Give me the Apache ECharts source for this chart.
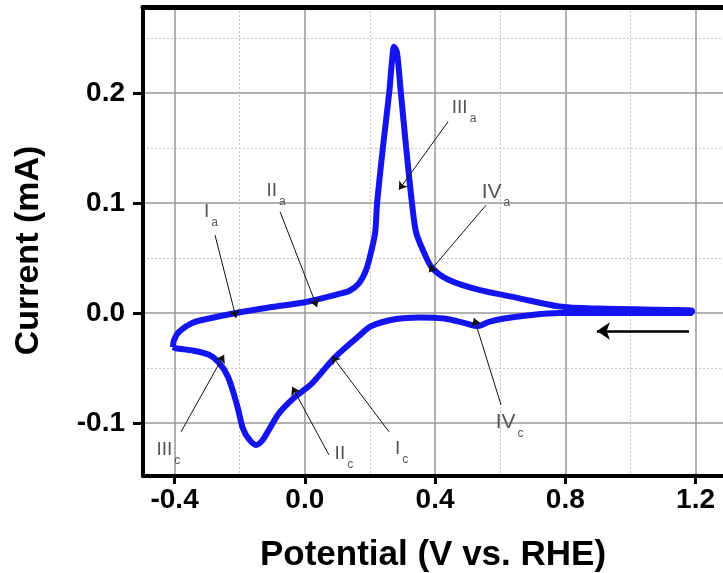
<!DOCTYPE html>
<html><head><meta charset="utf-8">
<script src="https://cdn.jsdelivr.net/npm/echarts@6/dist/echarts.min.js"></script>
<style>html,body{margin:0;padding:0;background:#fff}#c{width:723px;height:573px}</style>
</head><body><div id="c"></div>
<script>
// Anodic (forward) scan, left to right
const anodicV = [-0.405, -0.402, -0.386, -0.346, -0.294, -0.211, -0.110, 0.004, 0.105, 0.136, 0.166, 0.188, 0.203, 0.216, 0.222, 0.240, 0.259, 0.268, 0.274, 0.283, 0.295, 0.311, 0.329, 0.342, 0.366, 0.391, 0.443, 0.535, 0.649, 0.781, 0.904, 1.189];
const anodicI = [-0.031, -0.025, -0.017, -0.009, -0.005, 0.000, 0.005, 0.010, 0.0173, 0.020, 0.027, 0.039, 0.055, 0.073, 0.100, 0.151, 0.200, 0.230, 0.242, 0.237, 0.200, 0.151, 0.100, 0.073, 0.055, 0.041, 0.030, 0.021, 0.014, 0.006, 0.004, 0.002];
// Cathodic (reverse) scan, right to left
const cathodicV = [1.189, 0.904, 0.781, 0.689, 0.612, 0.566, 0.529, 0.489, 0.428, 0.351, 0.280, 0.203, 0.166, 0.090, 0.022, -0.033, -0.079, -0.110, -0.131, -0.150, -0.171, -0.190, -0.208, -0.236, -0.264, -0.294, -0.346, -0.396, -0.405];
const cathodicI = [0.000, 0.000, 0.000, -0.002, -0.005, -0.008, -0.012, -0.009, -0.005, -0.004, -0.0055, -0.012, -0.021, -0.041, -0.064, -0.077, -0.091, -0.106, -0.116, -0.120, -0.115, -0.105, -0.084, -0.058, -0.045, -0.038, -0.034, -0.032, -0.031];

const xTicks = [-0.4, 0.0, 0.4, 0.8, 1.2];
const yTicks = [-0.1, 0.0, 0.1, 0.2];

// Peak annotations
const peakNames = ['I', 'II', 'III', 'IV', 'I', 'II', 'III', 'IV'];
const peakSubs  = ['a', 'a', 'a', 'a', 'c', 'c', 'c', 'c'];
const labelV = [-0.288, -0.088, 0.489, 0.587, 0.297, 0.120, -0.419, 0.629];
const labelI = [0.092, 0.111, 0.187, 0.110, -0.123, -0.128, -0.1245, -0.0995];
const arrowFromV = [-0.276, -0.076, 0.440, 0.5565, 0.2586, 0.074, -0.380, 0.6026];
const arrowFromI = [0.071, 0.092, 0.174, 0.098, -0.108, -0.129, -0.108, -0.0836];
const arrowToV = [-0.211, 0.0375, 0.289, 0.381, 0.0835, -0.039, -0.248, 0.5197];
const arrowToI = [-0.0045, 0.0055, 0.112, 0.037, -0.039, -0.067, -0.038, -0.0045];
// Scan-direction arrow
const scanFrom = [1.180, -0.0164];
const scanTo = [0.897, -0.0164];

// Axis view ranges
const X_MIN = -0.497, X_MAX = 1.2843;
const Y_MIN = -0.1482, Y_MAX = 0.2782;

const FONT = '"Liberation Sans", Arial, sans-serif';
const cvData = anodicV.map((v, i) => [v, anodicI[i]]).concat(cathodicV.map((v, i) => [v, cathodicI[i]]));

// pixel helpers for aligning helper gridline grids with the main grid
const GL = 143, GT = 7, GW = 580, GH = 469;
const px = v => GL + (v - X_MIN) / (X_MAX - X_MIN) * GW;
const py = v => GT + (Y_MAX - v) / (Y_MAX - Y_MIN) * GH;

const hidden = {show: false};
function gridAxis(gi, min, max, interval, dotted) {
  return {gridIndex: gi, type: 'value', min: min, max: max, interval: interval,
    axisLine: hidden, axisTick: hidden, axisLabel: hidden,
    splitLine: {show: true, lineStyle: dotted ? {color: '#c4c4c4', width: 1, type: [2, 2]} : {color: '#999', width: 1.5}}};
}
function dummy(gi) { return {gridIndex: gi, type: 'value', min: 0, max: 1, show: false}; }

const chart = echarts.init(document.getElementById('c'), null, {renderer: 'canvas'});
const option = {
  animation: false,
  backgroundColor: '#fff',
  grid: [
    {left: GL, top: GT, width: GW, height: GH, outerBoundsMode: 'none', z: 3},
    // vertical major lines (-0.4 .. 1.2)
    {left: px(-0.4), top: GT, width: px(1.2) - px(-0.4), height: GH, outerBoundsMode: 'none'},
    // vertical minor lines (-0.2 .. 1.0)
    {left: px(-0.2), top: GT, width: px(1.0) - px(-0.2), height: GH, outerBoundsMode: 'none'},
    // horizontal major lines (-0.1 .. 0.2)
    {left: GL, top: py(0.2), width: GW, height: py(-0.1) - py(0.2), outerBoundsMode: 'none'},
    // horizontal minor lines (-0.05 .. 0.25)
    {left: GL, top: py(0.25), width: GW, height: py(-0.05) - py(0.25), outerBoundsMode: 'none'}
  ],
  xAxis: [
    {gridIndex: 0, type: 'value', min: X_MIN, max: X_MAX, position: 'bottom',
     axisLine: {show: true, onZero: false, lineStyle: {color: '#000', width: 4}},
     axisTick: {show: true, customValues: xTicks, length: 8, lineStyle: {color: '#000', width: 3}},
     axisLabel: {customValues: xTicks, formatter: v => v.toFixed(1), margin: 10, fontSize: 28, fontWeight: 'bold', color: '#000', fontFamily: FONT},
     splitLine: {show: false},
     name: 'Potential (V vs. RHE)', nameLocation: 'middle', nameGap: 62,
     nameTextStyle: {fontSize: 35, fontWeight: 'bold', color: '#000', fontFamily: FONT}},
    {gridIndex: 0, type: 'value', min: X_MIN, max: X_MAX, position: 'top',
     axisLine: {show: true, onZero: false, lineStyle: {color: '#000', width: 5}},
     axisTick: hidden, axisLabel: hidden, splitLine: hidden},
    gridAxis(1, -0.4, 1.2, 0.4, false),
    gridAxis(2, -0.2, 1.0, 0.4, true),
    dummy(3), dummy(4)
  ],
  yAxis: [
    {gridIndex: 0, type: 'value', min: Y_MIN, max: Y_MAX,
     axisLine: {show: true, onZero: false, lineStyle: {color: '#000', width: 4}},
     axisTick: {show: true, customValues: yTicks, length: 10, lineStyle: {color: '#000', width: 3}},
     axisLabel: {customValues: yTicks, formatter: v => v.toFixed(1), margin: 18, fontSize: 28, fontWeight: 'bold', color: '#000', fontFamily: FONT},
     splitLine: {show: false},
     name: 'Current (mA)', nameLocation: 'middle', nameGap: 97,
     nameTextStyle: {fontSize: 34, fontWeight: 'bold', color: '#000', fontFamily: FONT, padding: [0, 18, 0, 0]}},
    dummy(1), dummy(2),
    gridAxis(3, -0.1, 0.2, 0.1, false),
    gridAxis(4, -0.05, 0.25, 0.1, true)
  ],
  series: [
    {type: 'line', xAxisIndex: 0, yAxisIndex: 0, data: cvData, symbol: 'none', smooth: 0.3,
     lineStyle: {color: '#1414f0', width: 6}, z: 4, silent: true},
    {type: 'lines', coordinateSystem: 'cartesian2d', xAxisIndex: 0, yAxisIndex: 0, z: 5, silent: true,
     symbol: ['none', 'arrow'], symbolSize: 8,
     lineStyle: {color: '#111', width: 1, opacity: 1},
     data: arrowFromV.map((v, i) => ({coords: [[v, arrowFromI[i]], [arrowToV[i], arrowToI[i]]]}))},
    {type: 'lines', coordinateSystem: 'cartesian2d', xAxisIndex: 0, yAxisIndex: 0, z: 5, silent: true,
     symbol: ['none', 'arrow'], symbolSize: 13,
     lineStyle: {color: '#000', width: 2.5, opacity: 1},
     data: [{coords: [scanFrom, scanTo]}]},
    {type: 'scatter', xAxisIndex: 0, yAxisIndex: 0, z: 6, silent: true,
     symbolSize: 1, itemStyle: {opacity: 0},
     data: labelV.map((v, i) => ({value: [v, labelI[i]]})),
     label: {show: true, position: 'inside', opacity: 1,
       formatter: p => {
         const big = peakNames[p.dataIndex] === 'IV' ? 'b' : 'm';
         return '{' + big + '|' + peakNames[p.dataIndex] + '}{s|' + peakSubs[p.dataIndex] + '}';
       },
       rich: {
         m: {fontSize: 19, color: '#555', fontFamily: FONT, lineHeight: 20, verticalAlign: 'middle'},
         b: {fontSize: 21, color: '#555', fontFamily: FONT, lineHeight: 22, verticalAlign: 'middle'},
         s: {fontSize: 12, color: '#555', fontFamily: FONT, lineHeight: 34, verticalAlign: 'bottom', padding: [0, 0, 0, 2]}
       }}}
  ]
};
chart.setOption(option);
</script>
</body></html>
